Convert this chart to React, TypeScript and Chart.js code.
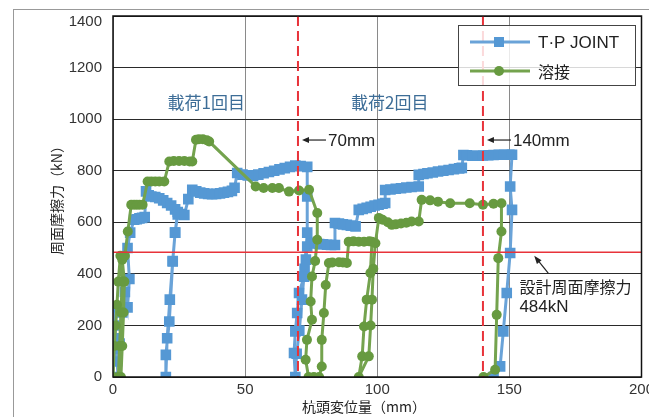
import React, { useEffect, useRef } from "react";
import { Chart, registerables } from "chart.js";
Chart.register(...registerables);

// T·P JOINT (mm, kN)
const tpX = [0, 0, 0.5, 1.2, 0.8, 1.5, 2.5, 3.5, 4.5, 5.5, 6.2, 5.5, 6.5, 8, 9, 10, 11, 12, 12.5, 13.5, 14.5, 16, 17.5, 19, 20.5, 22, 23.5, 24.5, 23.5, 22.6, 21.3, 20, 20, 20.5, 21.5, 22.6, 23.5, 24.5, 26, 27, 28.5, 30, 31.5, 33, 34.5, 36, 37.5, 39, 40.5, 42, 43.5, 45, 46, 47, 49, 51, 53, 55, 57, 59, 61, 63, 65, 67, 69, 71, 73.5, 73.5, 73.5, 72.5, 71.5, 70.5, 69.5, 69, 68.5, 69, 69.7, 70.4, 72.3, 73, 73.5, 75, 76.5, 78, 79.5, 81, 82.5, 84, 84, 85.5, 87, 88.5, 90, 91.8, 93, 94.5, 96, 97.5, 99, 100.5, 102, 103, 103, 105, 107, 109, 111, 113, 115.7, 115.7, 117.5, 119, 121, 123, 125, 127, 129, 131, 132, 132.6, 134, 136, 138, 140, 142, 144, 146, 148, 150, 151, 150.3, 151, 150.3, 149, 147.7, 146.5, 144];
const tpY = [0, 110, 200, 270, 150, 60, 130, 250, 330, 270, 380, 500, 560, 610, 612, 615, 617, 620, 720, 705, 700, 698, 693, 685, 675, 665, 650, 640, 560, 448, 215, 86, 0, 150, 300, 450, 560, 630, 632, 628, 690, 726, 720, 715, 712, 710, 709, 710, 712, 715, 718, 722, 734, 791, 785, 782, 780, 785, 790, 795, 800, 805, 810, 815, 820, 818, 815, 700, 560, 420, 300, 180, 90, 0, 93, 177, 248, 326, 389, 455, 506, 520, 518, 516, 515, 513, 512, 512, 597, 595, 592, 590, 587, 584, 648, 652, 656, 660, 665, 668, 672, 675, 725, 727, 730, 732, 735, 737, 739, 784, 787, 790, 793, 797, 800, 803, 806, 809, 811, 861, 860, 858, 858, 859, 860, 861, 862, 862, 862, 862, 739, 648, 481, 326, 177, 41, 0];

// 溶接 (mm, kN)
const weldX = [0, 0.5, 1, 1.5, 2, 2.8, 3.5, 3, 2.5, 2, 3, 3.5, 4, 4.3, 3.5, 4.5, 5.6, 6.9, 8, 9, 10, 11.2, 13.1, 14.5, 16, 17.5, 19.4, 21.3, 23, 25, 27, 29, 30, 31.4, 32.5, 34, 35.5, 36.4, 54, 57, 60.3, 62.8, 66.6, 70.4, 74.2, 77.3, 77.3, 76.5, 75.3, 74.8, 75.3, 73.4, 72.9, 74, 76, 78, 79, 79, 79.8, 80.5, 81.7, 83, 85.5, 87, 88.5, 89.2, 91, 93, 95, 97, 98, 97.4, 96, 95, 94.3, 93, 96.8, 97.5, 98, 98.5, 99.3, 100.6, 102, 104, 105.5, 107, 109, 111, 113, 115.7, 116.8, 120, 123, 127.6, 135, 140, 144, 147, 147, 145.8, 145.2, 144.6, 140.2];
const weldY = [0, 120, 200, 280, 370, 470, 370, 250, 120, 0, 0, 120, 250, 370, 455, 470, 564, 668, 668, 668, 668, 668, 758, 758, 758, 758, 758, 836, 838, 838, 838, 836, 836, 920, 922, 922, 918, 913, 739, 733, 733, 733, 719, 723, 726, 636, 532, 450, 390, 293, 222, 144, 67, 0, 0, 0, 41, 144, 248, 357, 442, 444, 445, 444, 442, 525, 526, 525, 525, 526, 525, 403, 300, 196, 80, 0, 80, 200, 300, 420, 519, 617, 610, 600, 590, 592, 595, 598, 603, 603, 687, 685, 680, 674, 674, 668, 672, 674, 564, 461, 241, 28, 0];

const seriesNames = ["T·P JOINT", "溶接"];
const xTickValues = [0, 50, 100, 150, 200];
const yTickValues = [0, 200, 400, 600, 800, 1000, 1200, 1400];
const designForce = 484; // kN
const markerDisplacements = [70, 140]; // mm
const markerLabels = ["70mm", "140mm"];
const loadLabels = ["載荷1回目", "載荷2回目"];
const designLabel = ["設計周面摩擦力", "484kN"];
const xTitle = "杭頭変位量（mm）";
const yTitle = "周面摩擦力（kN）";

const BLUE = "#5598d4";
const BLUE_LINE = "#6aa3d8";
const GREEN = "#679a40";
const GREEN_LINE = "#74a34e";
const RED = "#e8333a";
const FONT = '"Liberation Sans", "Noto Sans CJK JP", sans-serif';
const CJK = '"Noto Sans CJK JP", "Liberation Sans", sans-serif';

const overlay = {
  id: "overlay",
  afterDatasetsDraw(chart: any) {
    const ctx = chart.ctx;
    const xs = chart.scales.x;
    const ys = chart.scales.y;
    const a = chart.chartArea;
    ctx.save();
    ctx.strokeStyle = RED;
    ctx.lineWidth = 1.6;
    const yd = ys.getPixelForValue(designForce);
    ctx.beginPath();
    ctx.moveTo(a.left, yd);
    ctx.lineTo(a.right, yd);
    ctx.stroke();
    ctx.setLineDash([10, 5]);
    ctx.lineWidth = 2;
    markerDisplacements.forEach((m) => {
      const x = xs.getPixelForValue(m);
      ctx.beginPath();
      ctx.moveTo(x, a.top);
      ctx.lineTo(x, a.bottom);
      ctx.stroke();
    });
    ctx.setLineDash([]);
    ctx.restore();
  },
  afterDraw(chart: any) {
    const ctx = chart.ctx;
    const xs = chart.scales.x;
    const ys = chart.scales.y;
    const a = chart.chartArea;
    ctx.save();
    ctx.strokeStyle = "#111";
    ctx.lineWidth = 1.5;
    ctx.strokeRect(a.left, a.top, a.right - a.left, a.bottom - a.top);

    // top y tick label sits just below the frame
    const topTick = yTickValues[yTickValues.length - 1];
    ctx.fillStyle = "#333";
    ctx.font = "15px " + FONT;
    ctx.textAlign = "right";
    ctx.textBaseline = "middle";
    ctx.fillText(String(topTick), a.left - 11, ys.getPixelForValue(topTick) + 6);

    ctx.fillStyle = "#3d6d97";
    ctx.font = "17px " + CJK;
    ctx.textAlign = "center";
    ctx.fillText(loadLabels[0], xs.getPixelForValue(35.3), ys.getPixelForValue(1063));
    ctx.fillText(loadLabels[1], xs.getPixelForValue(104.7), ys.getPixelForValue(1063));

    ctx.fillStyle = "#222";
    ctx.strokeStyle = "#222";
    ctx.lineWidth = 1.2;
    const ya = ys.getPixelForValue(919);
    markerDisplacements.forEach((m, i) => {
      const x = xs.getPixelForValue(m);
      ctx.beginPath();
      ctx.moveTo(x + 28, ya);
      ctx.lineTo(x + 9, ya);
      ctx.stroke();
      ctx.beginPath();
      ctx.moveTo(x + 4, ya);
      ctx.lineTo(x + 11, ya - 3);
      ctx.lineTo(x + 11, ya + 3);
      ctx.closePath();
      ctx.fill();
      ctx.font = "17px " + FONT;
      ctx.textAlign = "left";
      ctx.fillText(markerLabels[i], x + 30, ya + 1);
    });

    ctx.font = "16px " + CJK;
    ctx.textAlign = "left";
    ctx.fillText(designLabel[0], xs.getPixelForValue(153.8), ys.getPixelForValue(349));
    ctx.font = "17px " + FONT;
    ctx.fillText(designLabel[1], xs.getPixelForValue(153.8), ys.getPixelForValue(270));
    const ax0 = xs.getPixelForValue(164.7), ay0 = ys.getPixelForValue(403);
    const ax1 = xs.getPixelForValue(159.4), ay1 = ys.getPixelForValue(470);
    const ang = Math.atan2(ay1 - ay0, ax1 - ax0);
    ctx.beginPath();
    ctx.moveTo(ax0, ay0);
    ctx.lineTo(ax1 - 5 * Math.cos(ang), ay1 - 5 * Math.sin(ang));
    ctx.stroke();
    ctx.beginPath();
    ctx.moveTo(ax1, ay1);
    ctx.lineTo(ax1 - 8 * Math.cos(ang) + 3 * Math.sin(ang), ay1 - 8 * Math.sin(ang) - 3 * Math.cos(ang));
    ctx.lineTo(ax1 - 8 * Math.cos(ang) - 3 * Math.sin(ang), ay1 - 8 * Math.sin(ang) + 3 * Math.cos(ang));
    ctx.closePath();
    ctx.fill();

    ctx.fillStyle = "#222";
    ctx.font = "14px " + CJK;
    ctx.textAlign = "center";
    ctx.fillText(xTitle, 364, 407);
    ctx.save();
    ctx.translate(57, 197);
    ctx.rotate(-Math.PI / 2);
    ctx.fillText(yTitle, 0, 0);
    ctx.restore();

    const lx = 458, ly = 25, lw = 177, lh = 60;
    ctx.fillStyle = "rgba(255,255,255,0.82)";
    ctx.fillRect(lx, ly, lw, lh);
    ctx.strokeStyle = "#444";
    ctx.lineWidth = 1;
    ctx.strokeRect(lx + 0.5, ly + 0.5, lw, lh);
    const rows = [
      { y: 42, line: BLUE_LINE, fill: BLUE, shape: "rect" },
      { y: 71, line: GREEN_LINE, fill: GREEN, shape: "circle" },
    ];
    rows.forEach((r, i) => {
      ctx.strokeStyle = r.line;
      ctx.lineWidth = 3;
      ctx.beginPath();
      ctx.moveTo(470, r.y);
      ctx.lineTo(530, r.y);
      ctx.stroke();
      ctx.fillStyle = r.fill;
      if (r.shape === "rect") {
        ctx.fillRect(494, r.y - 5, 10, 10);
      } else {
        ctx.beginPath();
        ctx.arc(499, r.y, 5, 0, Math.PI * 2);
        ctx.fill();
      }
      ctx.fillStyle = "#222";
      ctx.font = (i === 0 ? "17px " + FONT : "16px " + CJK);
      ctx.textAlign = "left";
      ctx.textBaseline = "middle";
      ctx.fillText(seriesNames[i], 538, r.y + 1);
    });
    ctx.restore();
  },
};

export default function App() {
  const ref = useRef<HTMLCanvasElement | null>(null);
  useEffect(() => {
    if (!ref.current) return;
    const tp = tpX.map((x, i) => ({ x, y: tpY[i] }));
    const weld = weldX.map((x, i) => ({ x, y: weldY[i] }));
    const topTick = yTickValues[yTickValues.length - 1];
    const chart = new Chart(ref.current, {
      type: "line",
      data: {
        datasets: [
          {
            label: seriesNames[1],
            data: weld,
            borderColor: GREEN_LINE,
            backgroundColor: GREEN,
            pointBackgroundColor: GREEN,
            pointBorderWidth: 0,
            pointStyle: "circle",
            pointRadius: 5,
            borderWidth: 3,
            tension: 0,
          },
          {
            label: seriesNames[0],
            data: tp,
            borderColor: BLUE_LINE,
            backgroundColor: BLUE,
            pointBackgroundColor: BLUE,
            pointBorderWidth: 0,
            pointStyle: "rect",
            pointRadius: 7.5,
            borderWidth: 3,
            tension: 0,
          },
        ],
      },
      options: {
        animation: false,
        responsive: false,
        parsing: false as any,
        layout: { padding: { left: 0, top: 16, right: 5, bottom: 0 } },
        plugins: { legend: { display: false }, tooltip: { enabled: false } },
        scales: {
          x: {
            type: "linear",
            min: 0,
            max: 200,
            afterBuildTicks: (s: any) => {
              s.ticks = xTickValues.map((v) => ({ value: v }));
            },
            afterFit: (s: any) => {
              s.height = 40;
              s.paddingLeft = 0;
              s.paddingRight = 0;
            },
            ticks: { color: "#333", font: { size: 15, family: FONT }, padding: 4, maxRotation: 0, callback: (v: any) => String(v) },
            grid: { color: "#8a8a8a", lineWidth: 1, drawTicks: false },
            border: { display: false },
          },
          y: {
            type: "linear",
            min: 0,
            max: 1400,
            afterBuildTicks: (s: any) => {
              s.ticks = yTickValues.map((v) => ({ value: v }));
            },
            afterFit: (s: any) => {
              s.width = 113;
              s.paddingTop = 0;
              s.paddingBottom = 0;
            },
            ticks: { color: "#333", font: { size: 15, family: FONT }, padding: 11, callback: (v: any) => (v === topTick ? "" : String(v)) },
            grid: { color: "#2a2a2a", lineWidth: 1, drawTicks: false },
            border: { display: false },
          },
        },
      },
      plugins: [overlay],
    });
    return () => chart.destroy();
  }, []);
  return (
    <div style={{ position: "absolute", left: 0, top: 0, width: 649, height: 417, background: "#fff", overflow: "hidden" }}>
      <div style={{ position: "absolute", left: 13, top: 9, right: -5, bottom: -5, borderLeft: "1px solid #999", borderTop: "1px solid #999" }} />
      <canvas ref={ref} width={649} height={417} style={{ position: "absolute", left: 0, top: 0, width: 649, height: 417 }} />
    </div>
  );
}
